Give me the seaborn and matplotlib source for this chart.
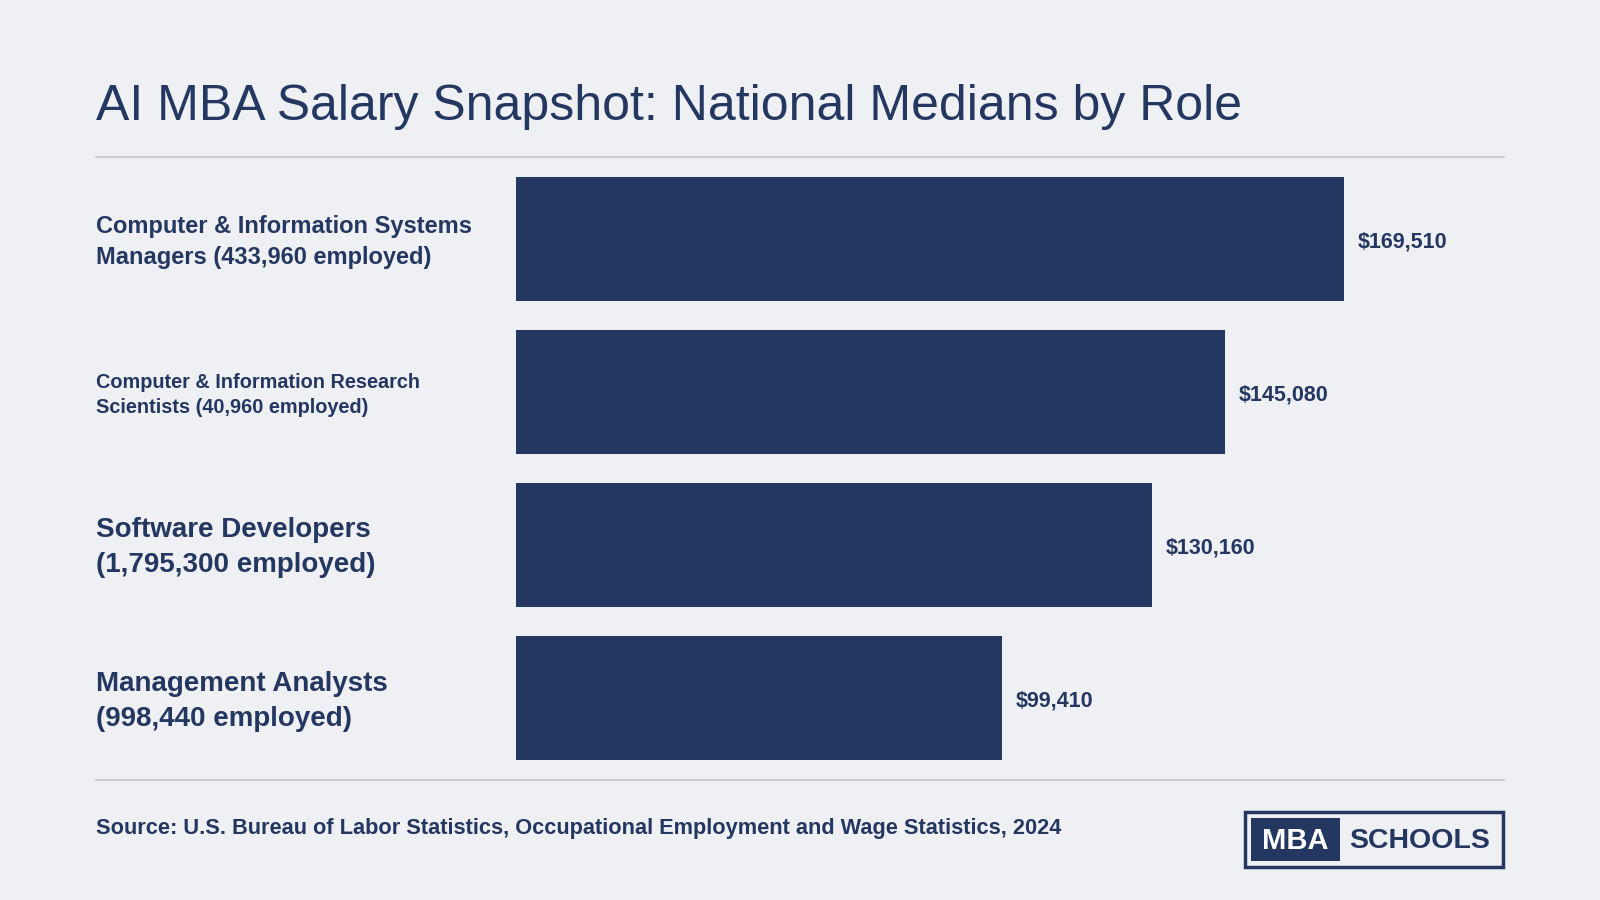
import matplotlib
matplotlib.use("Agg")
import matplotlib.pyplot as plt
import seaborn as sns
import pandas as pd
from matplotlib.patches import Rectangle

roles = ["Computer & Information Systems\nManagers (433,960 employed)",
         "Computer & Information Research\nScientists (40,960 employed)",
         "Software Developers\n(1,795,300 employed)",
         "Management Analysts\n(998,440 employed)"]
salaries = [169510, 145080, 130160, 99410]
label_sizes = [17, 14.3, 20, 20]
title = "AI MBA Salary Snapshot: National Medians by Role"
source = "Source: U.S. Bureau of Labor Statistics, Occupational Employment and Wage Statistics, 2024"

BG = "#eef0f4"; NAVY = "#243761"; RULE = "#c9cdd3"
sns.set_theme(style="white")
plt.rcParams['font.family'] = ['Liberation Sans', 'DejaVu Sans']
W, H = 1568, 882
fig = plt.figure(figsize=(16, 9), dpi=100, facecolor=BG)
def fx(x): return x / W
def fy(y): return 1 - y / H

ax = fig.add_axes([fx(506), fy(759), fx(1474) - fx(506), fy(159) - fy(759)])
ax.set_facecolor(BG)
df = pd.DataFrame({"role": roles, "salary": salaries})
sns.barplot(data=df, x="salary", y="role", color=NAVY, width=0.813, ax=ax, saturation=1)
ax.set_xlim(0, (1474 - 506) / ((1317 - 506) / 169510))
ax.set_ylim(3.5, -0.5)
for p in ax.patches:
    p.set_edgecolor("none")
for i, v in enumerate(salaries):
    ax.text(v + 2800, i + 0.02, f"${v:,}", va="center", ha="left", fontsize=15.5, fontweight="bold", color=NAVY)
ax.set_xlabel(""); ax.set_ylabel("")
ax.set_xticks([]); ax.set_yticks([])
for s in ax.spines.values():
    s.set_visible(False)
for i, r in enumerate(roles):
    fig.text(fx(94), fy(237 + 150 * i), r, ha="left", va="center", fontsize=label_sizes[i],
             fontweight="bold", color=NAVY, linespacing=1.45)

fig.text(fx(94), fy(105), title, ha="left", va="center", fontsize=36, color=NAVY)
for y in (154, 764):
    fig.add_artist(plt.Line2D([fx(94), fx(1474)], [fy(y), fy(y)], color=RULE, lw=1.5))
fig.text(fx(94), fy(812), source, ha="left", va="center", fontsize=15.7, fontweight="bold", color=NAVY)

# logo
fig.add_artist(Rectangle((fx(1220), fy(850)), fx(1473) - fx(1220), fy(796) - fy(850),
                         transform=fig.transFigure, fill=False, ec=NAVY, lw=2.5))
fig.add_artist(Rectangle((fx(1226), fy(844)), fx(1313) - fx(1226), fy(802) - fy(844),
                         transform=fig.transFigure, fc=NAVY, ec="none"))
fig.text(fx(1269.5), fy(824), "MBA", ha="center", va="center", fontsize=21, fontweight="bold", color="white")
fig.text(fx(1391), fy(824), "SCHOOLS", ha="center", va="center", fontsize=20.5, fontweight="bold", color=NAVY)

fig.savefig("out.png", dpi=100, facecolor=BG)
